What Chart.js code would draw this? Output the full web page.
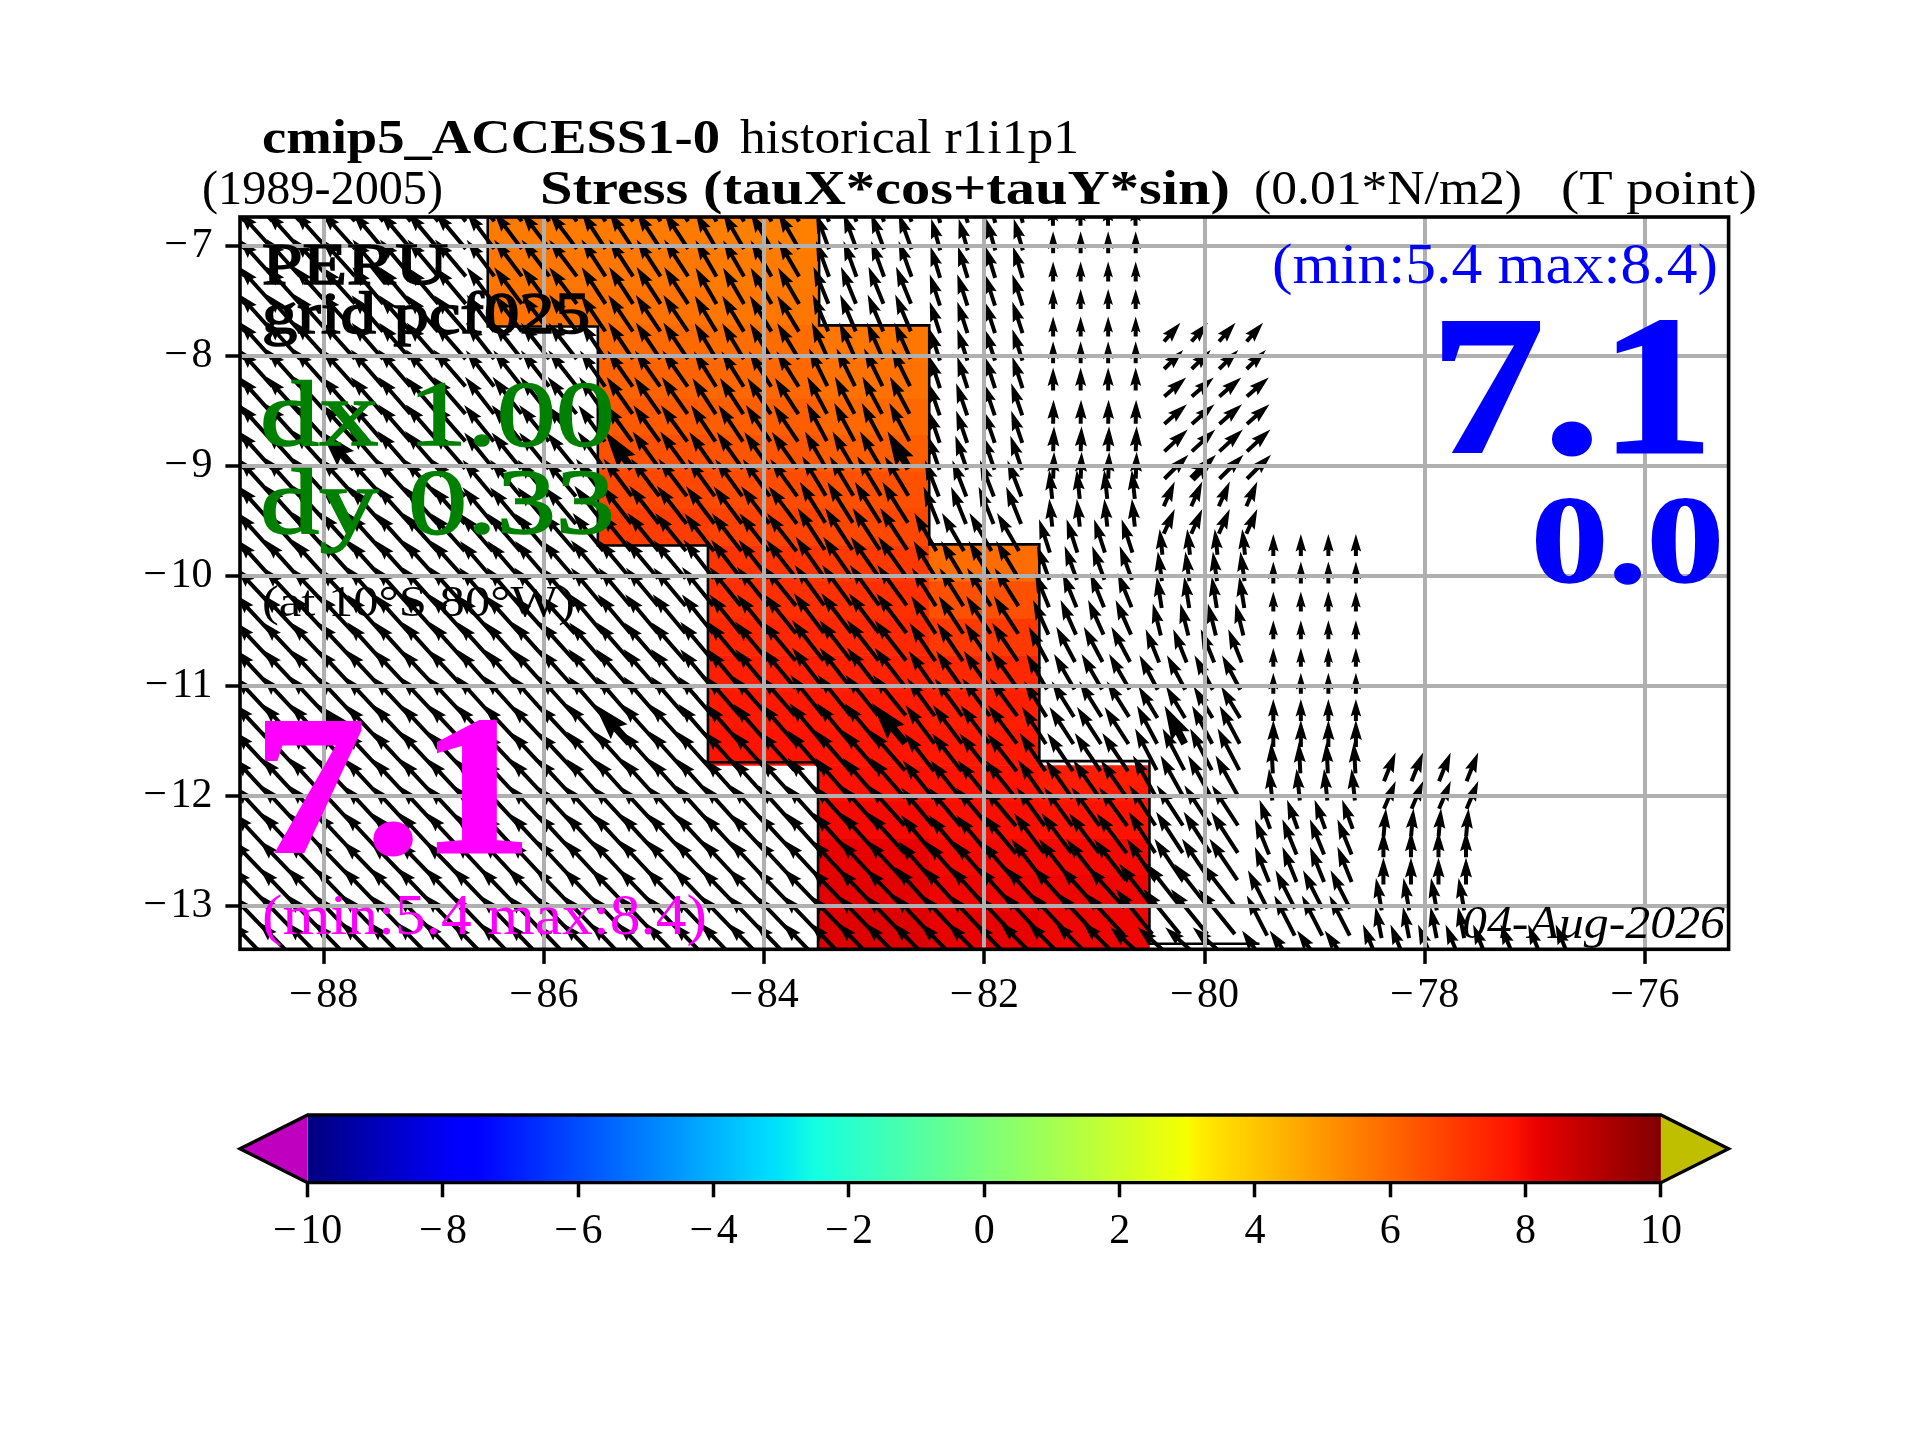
<!DOCTYPE html>
<html>
<head>
<meta charset="utf-8">
<title>cmip5_ACCESS1-0 stress</title>
<script src="https://cdn.jsdelivr.net/npm/chart.js@4"></script>
<style>
  html, body { margin: 0; background: #fff; }
  #page { position: relative; width: 1920px; height: 1440px; }
  canvas { position: absolute; left: 0; top: 0; }
</style>
</head>
<body>
<div id="page">
  <canvas id="mapChart" width="1920" height="1440"></canvas>
  <canvas id="colorbar" width="1920" height="1440"></canvas>
</div>
<script>
const _ = null

const xTicks = [-88, -86, -84, -82, -80, -78, -76]
const yTicks = [-7, -8, -9, -10, -11, -12, -13]
const colorbarTicks = [-10, -8, -6, -4, -2, 0, 2, 4, 6, 8, 10]

const jetValues = [-10, -7.8, -7.5, -3.2, -3, -2.5, 2.8, 3, 3.2, 7.8, 8.2, 10]
const jetColors = ["#000080", "#0000ff", "#0000ff", "#00dbff", "#00e5f7", "#14ffe2",
  "#eeff08", "#f7ff00", "#ffec00", "#ff1300", "#e80000", "#800000"]

const cellLons = [-86, -85, -84, -83, -82, -81]
const cellLatEdges = [-6.72, -7.05, -7.39, -7.72, -8.05, -8.39, -8.72, -9.05, -9.39, -9.72, -10.05,
  -10.39, -10.72, -11.05, -11.39, -11.72, -12.05, -12.39, -12.72, -13.05, -13.39]
const stressRows = [
  [5.6, 5.6, 5.5, _, _, _],
  [5.7, 5.7, 5.6, _, _, _],
  [5.8, 5.8, 5.7, _, _, _],
  [_, 5.95, 5.9, 5.7, _, _],
  [_, 6.1, 6.0, 5.8, _, _],
  [_, 6.3, 6.2, 6.0, _, _],
  [_, 6.5, 6.4, 6.2, _, _],
  [_, 6.7, 6.6, 6.5, _, _],
  [_, 6.9, 6.8, 6.7, _, _],
  [_, _, 7.1, 7.0, 5.9, _],
  [_, _, 7.2, 7.2, 6.5, _],
  [_, _, 7.4, 7.35, 7.0, _],
  [_, _, 7.55, 7.5, 7.35, _],
  [_, _, 7.7, 7.65, 7.55, _],
  [_, _, 7.8, 7.75, 7.7, _],
  [_, _, _, 7.85, 7.8, 7.6],
  [_, _, _, 8.0, 7.9, 7.8],
  [_, _, _, 8.2, 8.0, 8.0],
  [_, _, _, 8.3, 8.1, 8.1],
  [_, _, _, 8.4, 8.2, 8.1]
]

const leftEdgeLons = [-86.51, -86.51, -85.51, -85.51, -84.51, -84.51, -83.51, -83.51]
const leftEdgeLats = [-6.72, -7.73, -7.73, -9.72, -9.72, -11.69, -11.69, -13.39]
const rightEdgeLons = [-83.5, -83.5, -82.5, -82.5, -81.5, -81.5, -80.5, -80.5, -79.5]
const rightEdgeLats = [-6.72, -7.72, -7.72, -9.71, -9.71, -11.68, -11.68, -13.34, -13.34]

const arrowLons = [-88.625, -88.375, -88.125, -87.875, -87.625, -87.375, -87.125, -86.875, -86.625,
  -86.375, -86.125, -85.875, -85.625, -85.375, -85.125, -84.875, -84.625, -84.375, -84.125, -83.875,
  -83.625, -83.375, -83.125, -82.875, -82.625, -82.375, -82.125, -81.875, -81.625, -81.375, -81.125,
  -80.875, -80.625, -80.375, -80.125, -79.875, -79.625, -79.375, -79.125, -78.875, -78.625, -78.375,
  -78.125, -77.875, -77.625, -77.375, -77.125, -76.875, -76.625]
const arrowLats = [-6.875, -7.125, -7.375, -7.625, -7.875, -8.125, -8.375, -8.625, -8.875, -9.125,
  -9.375, -9.625, -9.875, -10.125, -10.375, -10.625, -10.875, -11.125, -11.375, -11.625, -11.875,
  -12.125, -12.375, -12.625, -12.875, -13.125, -13.375, -13.625]
const boldLons = [-87.625, -85.125, -82.625, -80.125]
const boldLats = [-9.125, -11.625]

// one row per latitude, one column per degree block from -88 to -77, degrees west of north
const arrowAngles = [
  [42, 40, 37, 33, 30, 20, 16, 1],
  [42, 40, 37, 33, 30, 20, 16, 0],
  [42, 40, 37, 33, 30, 20, 17, 0],
  [42, 40, 37, 33, 30, 22, 18, 0],
  [42, 41, 37, 34, 31, 23, 18, 0, -41],
  [42, 41, 38, 34, 31, 24, 18, 0, -45],
  [42, 41, 38, 35, 32, 26, 18, 0, -49],
  [42, 41, 38, 35, 33, 28, 19, -1, -49],
  [42, 41, 39, 36, 34, 28, 19, -2, -47],
  [42, 41, 39, 36, 35, 30, 19, -2, -45],
  [42, 42, 40, 37, 36, 31, 21, 6, -24],
  [42, 42, 40, 38, 37, 32, 22, 6, -24],
  [42, 42, 41, 39, 38, 33, 30, 18, 6, 0],
  [42, 42, 41, 40, 38, 35, 31, 20, 8, 0],
  [43, 42, 41, 40, 39, 36, 32, 22, 9, 0],
  [43, 42, 42, 40, 39, 37, 33, 24, 14, 0],
  [43, 42, 42, 41, 40, 38, 34, 28, 22, 0],
  [43, 43, 42, 41, 40, 38, 35, 30, 28, 0],
  [43, 43, 42, 41, 41, 39, 36, 32, 31, 0],
  [43, 43, 43, 42, 41, 40, 37, 33, 28, 0],
  [43, 43, 43, 42, 42, 41, 38, 34, 27.5, 3, -22],
  [43, 43, 43, 42, 42, 41, 39, 35, 29, 6, -23],
  [43, 43, 43, 43, 42, 42, 40, 36, 33, 20, -5],
  [43, 43, 43, 43, 43, 42, 40, 37, 33, 22, 0],
  [44, 44, 43, 43, 43, 43, 41, 38, 34, 22, 0],
  [44, 44, 44, 44, 44, 44, 42, 42, 38, 27, 10],
  [44, 44, 44, 44, 44, 44, 43, 43, 39, 27, 11],
  [44, 44, 44, 44, 44, 44, 44, 45, 48, 35, 22, 22]
]
const arrowSizes = [
  [50, 48, 46, 44, 42, 38, 33, 22],
  [50, 48, 46, 44, 42, 38, 33, 22],
  [50, 48, 46, 44, 42, 38, 33, 20],
  [50, 48, 46, 44, 42, 40, 33, 20],
  [50, 48, 46, 44, 42, 40, 33, 20, 25],
  [50, 48, 46, 44, 42, 40, 33, 22, 27],
  [50, 49, 46, 44, 42, 42, 33, 23, 29],
  [50, 49, 47, 45, 43, 42, 34, 24, 30],
  [50, 49, 47, 45, 44, 43, 34, 25, 32],
  [51, 50, 47, 46, 45, 43, 36, 27, 34],
  [51, 50, 48, 47, 46, 46, 39, 29, 27],
  [51, 50, 48, 48, 47, 48, 40, 28, 27],
  [52, 51, 50, 49, 48, 50, 44, 35, 26, 22],
  [52, 51, 50, 50, 49, 50, 44, 36, 30, 22],
  [52, 52, 51, 50, 50, 50, 45, 37, 32, 20],
  [53, 52, 51, 51, 50, 50, 45, 38, 33, 19],
  [53, 52, 52, 51, 51, 51, 46, 40, 36, 19],
  [53, 53, 52, 52, 51, 51, 46, 41, 39, 21],
  [54, 53, 53, 52, 52, 52, 47, 42, 37, 22],
  [54, 53, 53, 53, 52, 52, 48, 44, 43, 27],
  [54, 54, 53, 53, 53, 53, 48, 46, 47, 31, 31],
  [55, 54, 54, 53, 53, 53, 49, 47, 48, 32, 30],
  [55, 54, 54, 54, 54, 54, 50, 48, 48, 31, 28],
  [55, 55, 54, 54, 54, 54, 50, 50, 49, 38, 26],
  [56, 55, 55, 55, 55, 55, 52, 52, 50, 38, 27],
  [56, 56, 56, 55, 55, 55, 55, 55, 55, 43, 33],
  [57, 57, 56, 56, 56, 56, 56, 58, 58, 45, 32],
  [57, 57, 56, 56, 56, 56, 56, 58, 55, 42, 42, 42]
]

const SERIF = '"Liberation Serif"'
const pageTexts = [
  { text: "cmip5_ACCESS1-0", x: 262, y: 153, w: 458, size: 48, weight: "bold" },
  { text: "historical r1i1p1", x: 740, y: 153, w: 339, size: 48 },
  { text: "(1989-2005)", x: 202, y: 204, w: 241, size: 48 },
  { text: "Stress (tauX*cos+tauY*sin)", x: 540, y: 204, w: 690, size: 48, weight: "bold" },
  { text: "(0.01*N/m2)", x: 1254, y: 204, w: 268, size: 48 },
  { text: "(T point)", x: 1561, y: 204, w: 196, size: 48 },
  { text: "PERU", x: 262, y: 284, w: 186, size: 59, stroke: 1.6 },
  { text: "grid pcf025", x: 262, y: 333, w: 328, size: 59, stroke: 1.6 },
  { text: "dx 1.00", x: 260, y: 445, w: 355, size: 93, color: "#008000", stroke: 1.6 },
  { text: "dy 0.33", x: 260, y: 533, w: 355, size: 93, color: "#008000", stroke: 1.6 },
  { text: "(at 10°S 80°W)", x: 262, y: 616, w: 313, size: 44 },
  { text: "7.1", x: 254, y: 852, w: 278, size: 198, weight: "bold", color: "#ff00ff", stroke: 3 },
  { text: "(min:5.4 max:8.4)", x: 262, y: 934, w: 445, size: 58, color: "#ff00ff" },
  { text: "04-Aug-2026", x: 1462, y: 938, w: 263, size: 47, style: "italic" },
  { text: "(min:5.4 max:8.4)", x: 1272, y: 283, w: 446, size: 58, color: "#0000ff" },
  { text: "7.1", x: 1431, y: 452, w: 282, size: 198, weight: "bold", color: "#0000ff", stroke: 3 },
  { text: "0.0", x: 1531, y: 582, w: 193, size: 125, weight: "bold", color: "#0000ff", stroke: 1.5 }
]

function hexToRgb(hex) {
  return [1, 3, 5].map((i) => parseInt(hex.slice(i, i + 2), 16))
}

function jetColor(value) {
  let i = 0
  while (i < jetValues.length - 2 && value > jetValues[i + 1]) i++
  const t = Math.min(1, Math.max(0, (value - jetValues[i]) / (jetValues[i + 1] - jetValues[i])))
  const a = hexToRgb(jetColors[i])
  const b = hexToRgb(jetColors[i + 1])
  return `rgb(${a.map((c, k) => Math.round(c + (b[k] - c) * t)).join(",")})`
}

function minusLabel(value) {
  return String(value).replace("-", "\u2212\u200a")
}

const cellData = []
const cellFill = []
stressRows.forEach((row, r) => {
  row.forEach((value, c) => {
    if (value === null) return
    cellData.push({ x: cellLons[c], y: [cellLatEdges[r + 1], cellLatEdges[r]] })
    cellFill.push(jetColor(value))
  })
})

const arrowPoints = []
arrowLats.forEach((lat, k) => {
  arrowLons.forEach((lon) => {
    const block = Math.max(0, Math.round(lon) + 88)
    const angle = arrowAngles[k][block]
    if (angle === undefined) return
    arrowPoints.push({
      x: lon,
      y: lat,
      angle,
      size: arrowSizes[k][block],
      bold: boldLons.includes(lon) && boldLats.includes(lat)
    })
  })
})

function drawArrow(ctx, px, py, point) {
  const shaft = point.bold ? 7.5 : 4
  const length = point.size
  const headLength = Math.min(shaft * 5, length * 0.8)
  const headHalf = shaft * 1.5 * (headLength / (shaft * 5))
  const neck = length - headLength * 0.9
  const half = Math.min(shaft / 2, headHalf)
  const lead = point.angle < 0 ? 0.05 : 0.3

  ctx.save()
  ctx.translate(px, py)
  ctx.rotate((-point.angle * Math.PI) / 180)
  ctx.translate(0, -length * lead)
  ctx.beginPath()
  ctx.moveTo(-half, 0)
  ctx.lineTo(-half, -neck)
  ctx.lineTo(-headHalf, -(length - headLength))
  ctx.lineTo(0, -length)
  ctx.lineTo(headHalf, -(length - headLength))
  ctx.lineTo(half, -neck)
  ctx.lineTo(half, 0)
  ctx.closePath()
  ctx.fillStyle = "#000"
  ctx.fill()
  ctx.restore()
}

const quiverPlugin = {
  id: "quiver",
  afterDatasetDraw(chart, args) {
    if (chart.data.datasets[args.index].label !== "stress arrows") return
    const { ctx, chartArea } = chart
    const points = args.meta.data
    ctx.save()
    ctx.beginPath()
    ctx.rect(chartArea.left, chartArea.top, chartArea.width, chartArea.height)
    ctx.clip()
    points.forEach((element, i) => {
      drawArrow(ctx, element.x, element.y, arrowPoints[i])
    })
    ctx.restore()
  }
}

const framePlugin = {
  id: "frame",
  afterDraw(chart) {
    const { ctx, chartArea } = chart
    ctx.save()
    ctx.strokeStyle = "#000"
    ctx.lineWidth = 3.6
    ctx.strokeRect(chartArea.left, chartArea.top, chartArea.width, chartArea.height)
    pageTexts.forEach((item) => {
      ctx.font = `${item.style || "normal"} ${item.weight || "normal"} ${item.size}px ${SERIF}`
      ctx.fillStyle = item.color || "#000"
      ctx.textBaseline = "alphabetic"
      ctx.textAlign = "left"
      const natural = ctx.measureText(item.text).width
      ctx.save()
      ctx.translate(item.x, item.y)
      ctx.scale(item.w / natural, 1)
      ctx.fillText(item.text, 0, 0)
      if (item.stroke) {
        ctx.strokeStyle = item.color || "#000"
        ctx.lineWidth = item.stroke
        ctx.strokeText(item.text, 0, 0)
      }
      ctx.restore()
    })
    ctx.restore()
  }
}

Chart.defaults.font.family = SERIF
Chart.defaults.color = "#000"
Chart.defaults.animation = false

function edgeLine(lons, lats) {
  return {
    type: "scatter",
    data: lons.map((lon, i) => ({ x: lon, y: lats[i] })),
    showLine: true,
    borderColor: "#000",
    borderWidth: 2.6,
    pointRadius: 0,
    order: 2
  }
}

function mapAxis(min, max, ticks, padding, extra) {
  return {
    type: "linear",
    min,
    max,
    offset: false,
    afterBuildTicks(scale) {
      scale.ticks = ticks.map((value) => ({ value }))
    },
    ticks: {
      font: { size: 42 },
      autoSkip: false,
      maxRotation: 0,
      padding,
      callback: minusLabel
    },
    grid: {
      offset: false,
      color: "#b0b0b0",
      lineWidth: 4,
      z: 1,
      tickColor: "#000",
      tickWidth: 3.5,
      tickLength: 14.6
    },
    border: { display: false },
    ...extra
  }
}

new Chart(document.getElementById("mapChart"), {
  type: "bar",
  data: {
    datasets: [
      {
        label: "stress cells",
        data: cellData,
        backgroundColor: cellFill,
        barPercentage: 1,
        categoryPercentage: 1,
        borderWidth: 0,
        order: 3
      },
      edgeLine(leftEdgeLons, leftEdgeLats),
      edgeLine(rightEdgeLons, rightEdgeLats),
      {
        type: "scatter",
        label: "stress arrows",
        data: arrowPoints,
        pointRadius: 0,
        order: 1
      }
    ]
  },
  options: {
    responsive: false,
    devicePixelRatio: 1,
    layout: { padding: { top: 217, right: 191.4, left: 0, bottom: 0 } },
    plugins: { legend: { display: false }, tooltip: { enabled: false } },
    scales: {
      x: mapAxis(-88.76, -75.24, xTicks, 7, {
        afterFit(scale) { scale.height = 490.7 }
      }),
      y: mapAxis(-13.39, -6.735, yTicks, 13, {
        afterFit(scale) { scale.width = 240 }
      })
    }
  },
  plugins: [quiverPlugin, framePlugin]
})

function polygon(xs, ys, fillColor, extra) {
  return {
    type: "scatter",
    data: xs.map((x, i) => ({ x, y: ys[i] })),
    showLine: true,
    fill: "shape",
    backgroundColor: fillColor,
    borderWidth: 0,
    pointRadius: 0,
    ...extra
  }
}

function rampGradient(context) {
  const { chart } = context
  if (!chart.chartArea) return "#888"
  const xScale = chart.scales.x
  const gradient = chart.ctx.createLinearGradient(xScale.getPixelForValue(-10), 0, xScale.getPixelForValue(10), 0)
  jetValues.forEach((value, i) => gradient.addColorStop((value + 10) / 20, jetColors[i]))
  return gradient
}

new Chart(document.getElementById("colorbar"), {
  type: "scatter",
  data: {
    datasets: [
      polygon([-10, 10, 10, -10, -10], [0, 0, 1, 1, 0], rampGradient, { order: 3 }),
      polygon([-10, -11, -10, -10], [0, 0.5, 1, 0], "#bf00bf", { order: 2 }),
      polygon([10, 11, 10, 10], [0, 0.5, 1, 0], "#bfbf00", { order: 2 }),
      {
        data: [[-10, 0], [-11, 0.5], [-10, 1], [10, 1], [11, 0.5], [10, 0], [-10, 0]].map(([x, y]) => ({ x, y })),
        showLine: true,
        borderColor: "#000",
        borderWidth: 3.3,
        pointRadius: 0,
        clip: false,
        order: 1
      }
    ]
  },
  options: {
    responsive: false,
    devicePixelRatio: 1,
    layout: { padding: { top: 1115, right: 191.4, left: 240, bottom: 0 } },
    plugins: { legend: { display: false }, tooltip: { enabled: false } },
    scales: {
      x: {
        type: "linear",
        min: -11,
        max: 11,
        afterBuildTicks(scale) {
          scale.ticks = colorbarTicks.map((value) => ({ value }))
        },
        afterFit(scale) { scale.height = 257.3 },
        ticks: { font: { size: 42 }, autoSkip: false, maxRotation: 0, padding: 9, callback: minusLabel },
        grid: { drawOnChartArea: false, tickColor: "#000", tickWidth: 3.5, tickLength: 14.6 },
        border: { display: false }
      },
      y: { type: "linear", min: 0, max: 1, display: false }
    }
  }
})
</script>
</body>
</html>
